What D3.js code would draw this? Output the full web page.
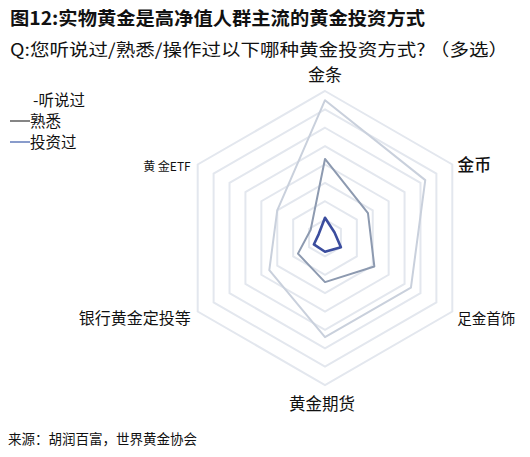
<!DOCTYPE html>
<meta charset="utf-8">
<style>
body { margin: 0; background: #fff; }
text { font-family: "Noto Sans CJK SC", "Noto Sans", sans-serif; fill: #111; }
.ring { fill: none; stroke: #e3e7ee; stroke-width: 2; }
.series { fill: none; stroke-linejoin: round; }
</style>
<body>
<div id="chart"></div>
<script src="https://d3js.org/d3.v7.min.js"></script>
<script>
// axes, clockwise from the top
var axes = ["金条", "金币", "足金首饰", "黄金期货", "银行黄金定投等", "黄 金ETF"];
var seriesNames = ["听说过", "熟悉", "投资过"];
// percent of respondents
var heard    = [75, 63, 54, 54, 35, 30];
var familiar = [43, 27, 31, 24, 17, 9];
var invested = [11, 6, 10, 7.5, 7, 4];
var ringLevels = [10, 20, 30, 40, 50, 60, 70, 80];

var width = 530, height = 457;
var cx = 325, cy = 238, R = 147;

var svg = d3.select("#chart").append("svg")
    .attr("width", width)
    .attr("height", height);

svg.append("rect").attr("width", width).attr("height", height).attr("fill", "#fff");

// title + question
svg.append("text")
    .attr("x", 10).attr("y", 25)
    .attr("font-size", 18.5).attr("font-weight", 700)
    .attr("textLength", 415).attr("lengthAdjust", "spacingAndGlyphs")
    .text("图12:实物黄金是高净值人群主流的黄金投资方式");

svg.append("text")
    .attr("x", 10).attr("y", 56)
    .attr("font-size", 17).attr("fill", "#222")
    .attr("textLength", 498).attr("lengthAdjust", "spacingAndGlyphs")
    .text("Q:您听说过/熟悉/操作过以下哪种黄金投资方式?  （多选）");

var rScale = d3.scaleLinear().domain([0, 80]).range([0, R]);
var angle = d3.scaleLinear().domain([0, axes.length]).range([0, 2 * Math.PI]);

var g = svg.append("g").attr("transform", "translate(" + cx + "," + cy + ")");

var radial = d3.lineRadial()
    .angle(function(d, i) { return angle(i); })
    .radius(function(d) { return rScale(d); })
    .curve(d3.curveLinearClosed);

// grid rings
g.selectAll(".ring")
    .data(ringLevels)
  .enter().append("path")
    .attr("class", "ring")
    .attr("d", function(lv) { return radial(axes.map(function() { return lv; })); });

// series
var series = [
    {name: seriesNames[0], values: heard,    color: "#c9d0dc", w: 2},
    {name: seriesNames[1], values: familiar, color: "#8d9ab0", w: 2},
    {name: seriesNames[2], values: invested, color: "#3b4d9e", w: 2.6}
];

g.selectAll(".series")
    .data(series)
  .enter().append("path")
    .attr("class", "series")
    .attr("stroke", function(d) { return d.color; })
    .attr("stroke-width", function(d) { return d.w; })
    .attr("d", function(d) { return radial(d.values); });

// axis labels
var labelSize = [17, 17, 14.5, 16.5, 16, 12];
g.selectAll(".axis-label")
    .data(axes)
  .enter().append("text")
    .attr("class", "axis-label")
    .attr("font-size", function(d, i) { return labelSize[i]; })
    .attr("font-weight", function(d, i) { return i === 1 ? 500 : 400; })
    .attr("text-anchor", function(d, i) {
        var s = Math.sin(angle(i));
        return Math.abs(s) < 0.01 ? "middle" : (s > 0 ? "start" : "end");
    })
    .attr("x", function(d, i) {
        var s = Math.sin(angle(i));
        var x = rScale(80) * s;
        return Math.abs(s) < 0.01 ? x - (i === 3 ? 3 : 0) : x + (s > 0 ? 5 : -7);
    })
    .attr("y", function(d, i) {
        var c = -Math.cos(angle(i));
        var y = rScale(80) * c;
        if (i === 0) return y - 10;
        if (i === 3) return y + 25;
        return y + (c > 0 ? 12 : 6);
    })
    .text(function(d) { return d; });

// legend
var legend = [
    {label: "-" + seriesNames[0], x: 33, y: 106, swatch: null},
    {label: seriesNames[1], x: 30, y: 127, swatch: "#333"},
    {label: seriesNames[2], x: 30, y: 148, swatch: "#3b5aa8"}
];
var lg = svg.selectAll(".legend").data(legend).enter().append("g").attr("class", "legend");
lg.append("text")
    .attr("x", function(d) { return d.x; })
    .attr("y", function(d) { return d.y; })
    .attr("font-size", 15.5)
    .text(function(d) { return d.label; });
lg.filter(function(d) { return d.swatch; }).append("line")
    .attr("x1", 10).attr("x2", 30)
    .attr("y1", function(d) { return d.y - 6; })
    .attr("y2", function(d) { return d.y - 6; })
    .attr("stroke", function(d) { return d.swatch; })
    .attr("stroke-width", 1.2);

// source
svg.append("text")
    .attr("x", 8).attr("y", 444)
    .attr("font-size", 13.5)
    .text("来源：胡润百富，世界黄金协会");
</script>
</body>
